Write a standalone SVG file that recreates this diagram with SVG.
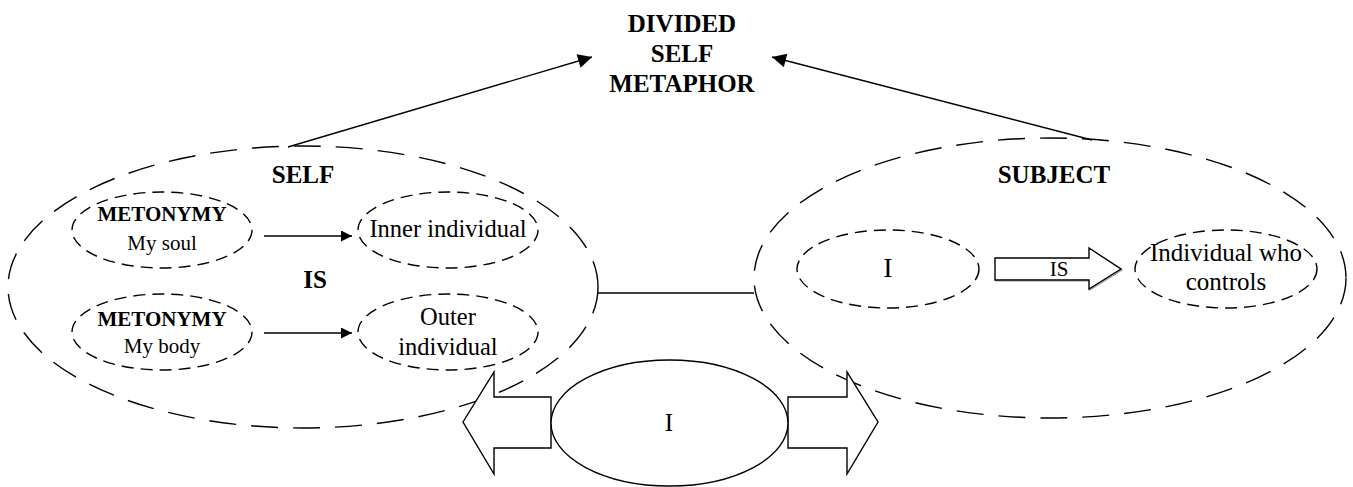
<svg xmlns="http://www.w3.org/2000/svg" width="1353" height="487" viewBox="0 0 1353 487">
<style>
.big{fill:none;stroke:#000;stroke-width:1.4;stroke-dasharray:27 15}
.small{fill:none;stroke:#000;stroke-width:1.4;stroke-dasharray:12 7}
.solid{fill:#fff;stroke:#000;stroke-width:1.4}
.line{fill:none;stroke:#000;stroke-width:1.4}
.t{font-family:"Liberation Serif","Times New Roman",serif;text-anchor:middle;fill:#000}
.b{font-weight:bold}
</style>
<defs>
<marker id="headL" viewBox="0 0 10 10" refX="10" refY="5" markerUnits="userSpaceOnUse" markerWidth="20" markerHeight="14" orient="auto">
<path d="M0,0 L10,5 L0,10 z" fill="#000"/>
</marker>
<marker id="headS" viewBox="0 0 10 10" refX="10" refY="5" markerUnits="userSpaceOnUse" markerWidth="15" markerHeight="11" orient="auto">
<path d="M0,0 L10,5 L0,10 z" fill="#000"/>
</marker>
</defs>

<g id="title">
<text class="t b" x="682" y="32" font-size="25">DIVIDED</text>
<text class="t b" x="682" y="62" font-size="25">SELF</text>
<text class="t b" x="682" y="92" font-size="25">METAPHOR</text>
</g>

<g id="self">
<ellipse class="big" cx="303" cy="287" rx="295" ry="141"/>
<text class="t b" x="303" y="183" font-size="25">SELF</text>
<text class="t b" x="315" y="288" font-size="25">IS</text>
</g>

<g id="metonymy-soul">
<ellipse class="small" cx="162" cy="230" rx="90" ry="38"/>
<text class="t b" x="162" y="221" font-size="21">METONYMY</text>
<text class="t" x="162" y="250" font-size="21">My soul</text>
</g>

<g id="inner-individual">
<ellipse class="small" cx="448" cy="230" rx="90" ry="38"/>
<text class="t" x="448" y="237" font-size="24.5">Inner individual</text>
</g>

<g id="metonymy-body">
<ellipse class="small" cx="162" cy="332" rx="90" ry="38"/>
<text class="t b" x="162" y="326" font-size="21">METONYMY</text>
<text class="t" x="162" y="353" font-size="21">My body</text>
</g>

<g id="outer-individual">
<ellipse class="small" cx="448" cy="332" rx="90" ry="38"/>
<text class="t" x="448" y="325" font-size="24.5">Outer</text>
<text class="t" x="448" y="355" font-size="24.5">individual</text>
</g>

<g id="subject">
<ellipse class="big" cx="1050" cy="278" rx="296" ry="140"/>
<text class="t b" x="1054" y="183" font-size="25">SUBJECT</text>
</g>

<g id="subject-i">
<ellipse class="small" cx="888" cy="269" rx="91" ry="39"/>
<text class="t" x="888" y="277" font-size="28">I</text>
</g>

<g id="individual-who-controls">
<ellipse class="small" cx="1226" cy="269" rx="91" ry="39"/>
<text class="t" x="1226" y="261" font-size="25">Individual who</text>
<text class="t" x="1226" y="290" font-size="25">controls</text>
</g>

<g id="connectors">
<line class="line" x1="288" y1="147" x2="592" y2="57" marker-end="url(#headL)"/>
<line class="line" x1="1092" y1="140" x2="772" y2="57" marker-end="url(#headL)"/>
<line class="line" x1="264" y1="236" x2="352" y2="236" marker-end="url(#headS)"/>
<line class="line" x1="264" y1="333" x2="352" y2="333" marker-end="url(#headS)"/>
<line class="line" x1="598" y1="293" x2="754" y2="293"/>
<polygon points="996,259 1090,259 1090,249 1122,270 1090,290 1090,281 996,281" fill="none" stroke="#999" stroke-width="1.2"/>
<polygon class="solid" points="995,258 1089,258 1089,248 1121,269 1089,289 1089,280 995,280"/>
<text class="t" x="1059" y="276" font-size="21">IS</text>
<polygon class="solid" points="463,422 494,372 494,397 551,397 551,448 494,448 494,474"/>
<polygon class="solid" points="788,397 847,397 847,372 878,422 847,474 847,448 788,448"/>
</g>

<g id="central-i">
<ellipse class="solid" cx="669.5" cy="423" rx="118.5" ry="63"/>
<text class="t" x="669" y="431" font-size="25">I</text>
</g>
</svg>
